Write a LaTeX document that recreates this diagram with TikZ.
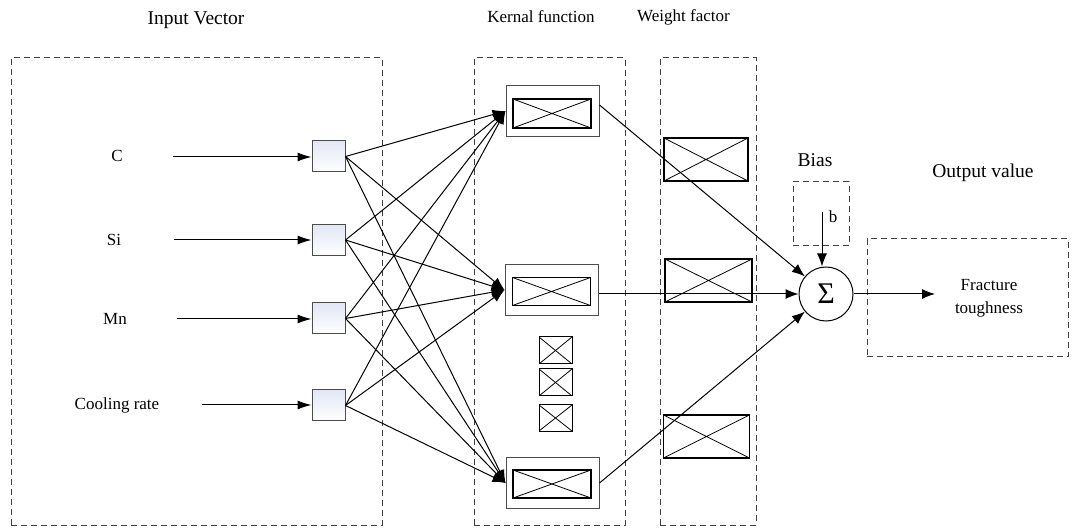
\documentclass[tikz,border=0pt]{standalone}
\usepackage{fontspec}
\setmainfont{Liberation Serif}
\usetikzlibrary{arrows.meta}

\definecolor{inshade}{RGB}{226,231,246}

\tikzset{
  frame/.style={draw=black!75, line width=1pt, dash pattern=on 6pt off 4pt},
  inbox/.style={draw=black!70, line width=1pt, top color=inshade, bottom color=white,
    minimum width=33pt, minimum height=31pt, inner sep=0pt},
  crossbox/.style={draw=black, line width=1.3pt, inner sep=0pt,
    path picture={\draw[line width=0.8pt]
      (path picture bounding box.north west) -- (path picture bounding box.south east)
      (path picture bounding box.south west) -- (path picture bounding box.north east);}},
  kouter/.style={draw=black!70, line width=1pt, minimum width=93pt, minimum height=51pt, inner sep=0pt},
  lbl/.style={font=\fontsize{17}{21}\selectfont, inner sep=0pt},
  ttl/.style={font=\fontsize{19.5}{23}\selectfont, inner sep=0pt},
  arr/.style={line width=1pt, -{Latex[length=14pt, width=9pt]}},
  link/.style={line width=1pt, -{Latex[length=13pt, width=10pt]}}
}

\begin{document}
\begin{tikzpicture}[x=1pt, y=-1pt]
\useasboundingbox (0,0) rectangle (1077,529);

% dashed group frames
\node[frame, minimum width=371pt, minimum height=467pt, inner sep=0pt] (fin) at (196.5,291.5) {};
\node[frame, minimum width=151pt, minimum height=467pt, inner sep=0pt] (fker) at (549.5,291.5) {};
\node[frame, minimum width=96pt, minimum height=467pt, inner sep=0pt] (fwt) at (708,291.5) {};
\node[frame, minimum width=56pt, minimum height=64pt, inner sep=0pt] (fbias) at (821,214) {};
\node[frame, minimum width=201pt, minimum height=118pt, inner sep=0pt] (fout) at (967.5,298) {};

% titles
\node[ttl] (tin) at (196,20) {Input Vector};
\node[lbl] (tker) at (541,17) {Kernal function};
\node[lbl] (twt) at (683.5,17) {Weight factor};
\node[ttl] (tbias) at (815,160) {Bias};
\node[ttl] (tout) at (983,173) {Output value};

% input variables
\node[lbl] (lC) at (117,156) {C};
\node[lbl] (lSi) at (114,240) {Si};
\node[lbl] (lMn) at (115,319) {Mn};
\node[lbl] (lCR) at (117,405) {Cooling rate};

\coordinate (sC) at (173,157);
\coordinate (sSi) at (174,240);
\coordinate (sMn) at (177,319);
\coordinate (sCR) at (202,405);

\node[inbox] (iC) at (328.5,156.5) {};
\node[inbox] (iSi) at (328.5,240) {};
\node[inbox] (iMn) at (328.5,318.5) {};
\node[inbox] (iCR) at (328.5,405.5) {};

\draw[arr] (sC) -- (iC.west |- sC);
\draw[arr] (sSi) -- (iSi.west |- sSi);
\draw[arr] (sMn) -- (iMn.west |- sMn);
\draw[arr] (sCR) -- (iCR.west |- sCR);

% kernel units
\node[kouter] (k1) at (552.5,111) {};
\node[crossbox, minimum width=78pt, minimum height=29pt] (k1i) at (552,113.5) {};
\node[kouter] (k2) at (551.5,290) {};
\node[crossbox, minimum width=78pt, minimum height=28pt] (k2i) at (551.5,291.5) {};
\node[kouter] (k3) at (552.5,483) {};
\node[crossbox, minimum width=78pt, minimum height=28pt] (k3i) at (552,484) {};

% ellipsis of further kernel units
\node[crossbox, line width=1pt, minimum width=33pt, minimum height=27pt] (d1) at (555.5,350.5) {};
\node[crossbox, line width=1pt, minimum width=33pt, minimum height=27pt] (d2) at (555.5,382.5) {};
\node[crossbox, line width=1pt, minimum width=33pt, minimum height=26pt] (d3) at (555.5,418) {};

% weights
\node[crossbox, minimum width=84pt, minimum height=43pt] (w1) at (706,159.5) {};
\node[crossbox, minimum width=87pt, minimum height=43pt] (w2) at (708.5,280.5) {};
\node[crossbox, minimum width=86pt, minimum height=43pt] (w3) at (706.5,436.5) {};

% full connections input -> kernel
\foreach \i in {iC,iSi,iMn,iCR}{
  \foreach \k in {k1,k2,k3}{
    \draw[link] (\i.east) -- (\k.west);
  }
}

% summation node
\node[draw, circle, line width=1pt, minimum size=54pt, inner sep=0pt,
      font=\fontsize{30}{32}\selectfont] (sig) at (826,294) {Σ};

\draw[link] ([yshift=6pt]k1.east) -- (sig);
\draw[link] (k2.east |- sig.west) -- (sig.west);
\draw[link] (k3.east) -- (sig);

% bias input
\coordinate (bt) at (822,212);
\node[lbl] (lb) at (833,217) {b};
\draw[link] (bt) -- (bt |- sig.north);

% output
\coordinate (oe) at (935,294);
\draw[link] (sig.east) -- (oe);
\node[lbl, align=center, font=\fontsize{17}{23}\selectfont] (lout) at (989,298) {Fracture\\toughness};
\end{tikzpicture}
\end{document}
